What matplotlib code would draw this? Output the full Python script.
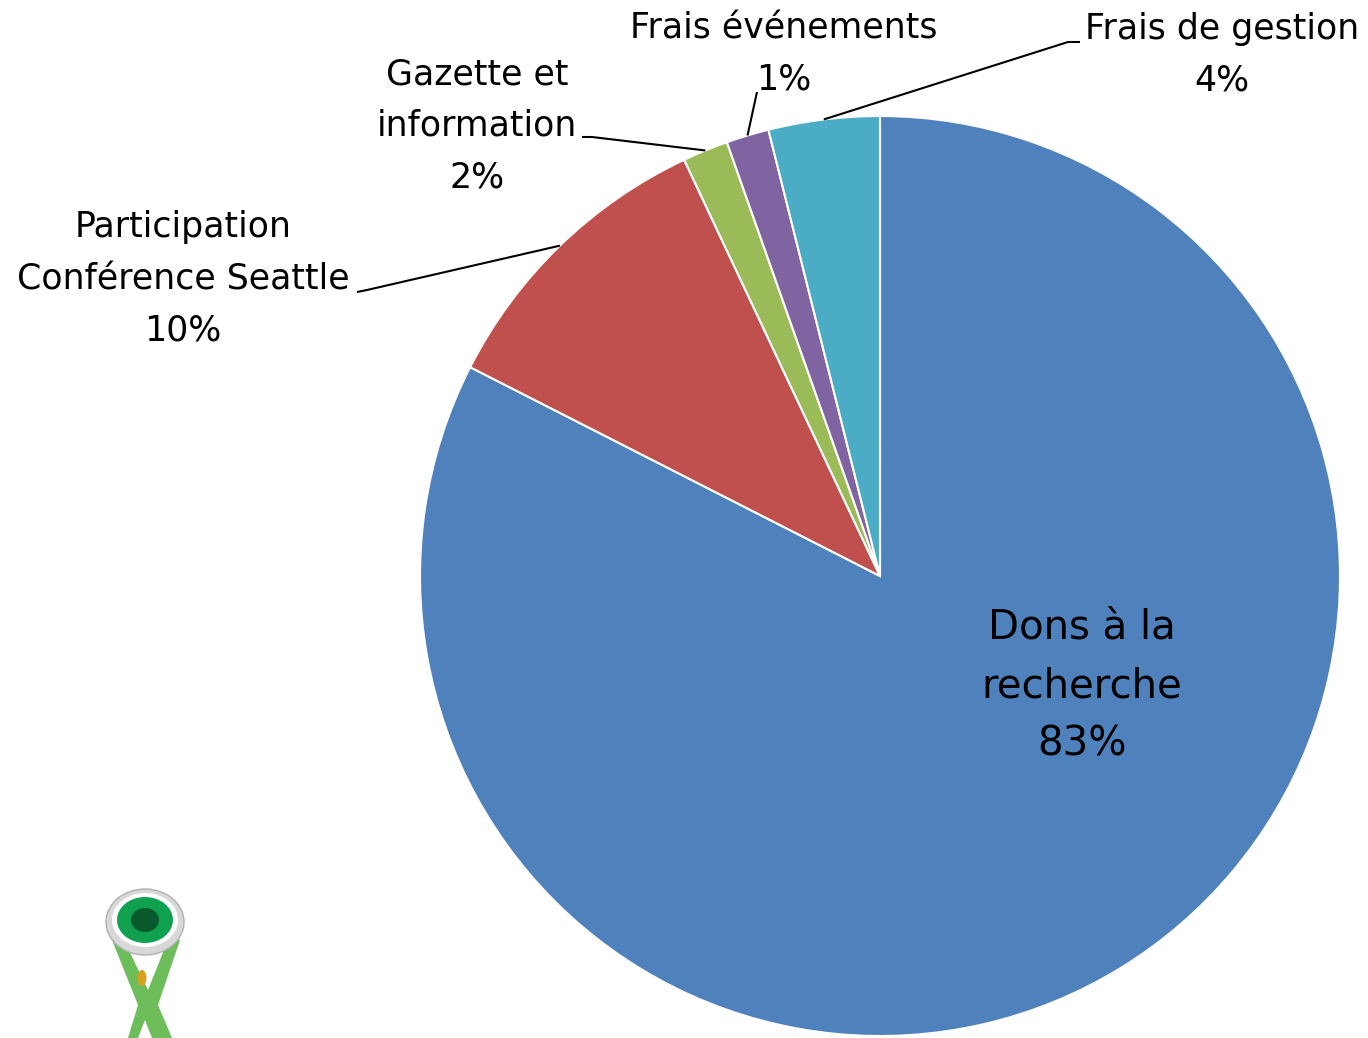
import matplotlib
matplotlib.use("Agg")
import matplotlib.pyplot as plt
from matplotlib.patches import Ellipse, Polygon
import numpy as np

# ---- data ----
categories = ["Dons à la\nrecherche", "Participation\nConférence Seattle", "Gazette et\ninformation",
              "Frais événements", "Frais de gestion"]
values = [82.5, 10.5, 1.6, 1.5, 3.9]
pct_labels = ["83%", "10%", "2%", "1%", "4%"]
colors = ["#4F81BD", "#C0504D", "#9BBB59", "#8064A2", "#4BACC6"]

W, H = 1368, 1038
CX, CY, R = 880, 576, 460

fig = plt.figure(figsize=(W / 100, H / 100), dpi=100)
ax = fig.add_axes([0, 0, 1, 1])

wedges, _ = ax.pie(values, colors=colors, startangle=90, counterclock=False, radius=1,
                   wedgeprops=dict(edgecolor="white", linewidth=1.5))
ax.set_xlim(-CX / R, (W - CX) / R)
ax.set_ylim(-(H - CY) / R, CY / R)
ax.set_aspect("equal")
ax.axis("off")


def P(xp, yp):
    return ((xp - CX) / R, (CY - yp) / R)


def anchor(w):
    ang = np.deg2rad((w.theta1 + w.theta2) / 2)
    return np.cos(ang), np.sin(ang)


font = "DejaVu Sans"
small = 25

# Dons label inside
x, y = P(1082, 686)
ax.text(x, y, categories[0] + "\n" + pct_labels[0], ha="center", va="center",
        fontsize=29, linespacing=1.6, family=font)

# outside labels: text centre, leader path points (from label side)
outside = {
    1: dict(text=P(183, 279), path=[P(357, 292), P(367, 290)]),
    2: dict(text=P(477, 126), path=[P(582, 137), P(592, 137)]),
    3: dict(text=P(784, 54), path=[P(757, 92)]),
    4: dict(text=P(1222, 55), path=[P(1080, 42), P(1068, 42)]),
}
for i, spec in outside.items():
    tx, ty = spec["text"]
    ax.text(tx, ty, categories[i] + "\n" + pct_labels[i], ha="center", va="center",
            fontsize=small, linespacing=1.65, family=font)
    pts = spec["path"] + [anchor(wedges[i])]
    xs, ys = zip(*pts)
    ax.plot(xs, ys, color="black", lw=1.5, solid_capstyle="butt")

# ---- small logo (bottom-left) ----
lx = fig.add_axes([0, 0, 1, 1], facecolor="none")
lx.set_xlim(0, W)
lx.set_ylim(H, 0)
lx.axis("off")
body = Polygon([(112, 940), (124, 940), (148, 990), (168, 940), (180, 940), (158, 1005),
                (172, 1038), (152, 1038), (145, 1020), (138, 1038), (128, 1038), (138, 1005)],
               closed=True, facecolor="#6DBE5A", edgecolor="none")
lx.add_patch(body)
lx.add_patch(Ellipse((145, 922), 78, 66, facecolor="#D8D8D8", edgecolor="#B0B0B0", lw=1))
lx.add_patch(Ellipse((145, 920), 66, 54, facecolor="white", edgecolor="none"))
lx.add_patch(Ellipse((145, 920), 56, 46, facecolor="#0FA050", edgecolor="none"))
lx.add_patch(Ellipse((145, 920), 28, 24, facecolor="#0B5A2E", edgecolor="none"))
lx.add_patch(Ellipse((142, 978), 9, 16, facecolor="#D9A020", edgecolor="none"))

fig.savefig("out.png", dpi=100, facecolor="white")
